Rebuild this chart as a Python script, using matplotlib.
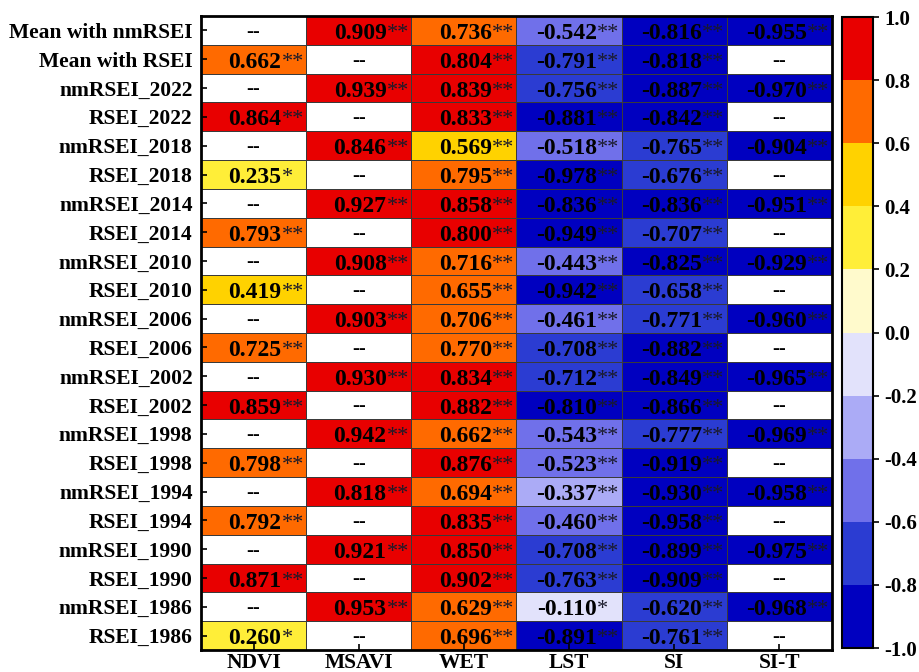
import numpy as np
import matplotlib
matplotlib.use("Agg")
import matplotlib.pyplot as plt
from matplotlib.colors import ListedColormap, BoundaryNorm

plt.rcParams['font.family'] = ['Liberation Serif', 'DejaVu Serif']

rows = ["Mean with nmRSEI", "Mean with RSEI",
        "nmRSEI_2022", "RSEI_2022", "nmRSEI_2018", "RSEI_2018",
        "nmRSEI_2014", "RSEI_2014", "nmRSEI_2010", "RSEI_2010",
        "nmRSEI_2006", "RSEI_2006", "nmRSEI_2002", "RSEI_2002",
        "nmRSEI_1998", "RSEI_1998", "nmRSEI_1994", "RSEI_1994",
        "nmRSEI_1990", "RSEI_1990", "nmRSEI_1986", "RSEI_1986"]
cols = ["NDVI", "MSAVI", "WET", "LST", "SI", "SI-T"]

nan = np.nan
ndvi  = [nan, 0.662, nan, 0.864, nan, 0.235, nan, 0.793, nan, 0.419, nan,
         0.725, nan, 0.859, nan, 0.798, nan, 0.792, nan, 0.871, nan, 0.260]
msavi = [0.909, nan, 0.939, nan, 0.846, nan, 0.927, nan, 0.908, nan, 0.903,
         nan, 0.930, nan, 0.942, nan, 0.818, nan, 0.921, nan, 0.953, nan]
wet   = [0.736, 0.804, 0.839, 0.833, 0.569, 0.795, 0.858, 0.800, 0.716, 0.655,
         0.706, 0.770, 0.834, 0.882, 0.662, 0.876, 0.694, 0.835, 0.850, 0.902,
         0.629, 0.696]
lst   = [-0.542, -0.791, -0.756, -0.881, -0.518, -0.978, -0.836, -0.949,
         -0.443, -0.942, -0.461, -0.708, -0.712, -0.810, -0.543, -0.523,
         -0.337, -0.460, -0.708, -0.763, -0.110, -0.891]
si    = [-0.816, -0.818, -0.887, -0.842, -0.765, -0.676, -0.836, -0.707,
         -0.825, -0.658, -0.771, -0.882, -0.849, -0.866, -0.777, -0.919,
         -0.930, -0.958, -0.899, -0.909, -0.620, -0.761]
sit   = [-0.955, nan, -0.970, nan, -0.904, nan, -0.951, nan, -0.929, nan,
         -0.960, nan, -0.965, nan, -0.969, nan, -0.958, nan, -0.975, nan,
         -0.968, nan]

# significance: 2 -> "**", 1 -> "*"
sig_ndvi  = [0, 2, 0, 2, 0, 1, 0, 2, 0, 2, 0, 2, 0, 2, 0, 2, 0, 2, 0, 2, 0, 1]
sig_msavi = [2, 0, 2, 0, 2, 0, 2, 0, 2, 0, 2, 0, 2, 0, 2, 0, 2, 0, 2, 0, 2, 0]
sig_wet   = [2] * 22
sig_lst   = [2] * 20 + [1, 2]
sig_si    = [2] * 22
sig_sit   = [2, 0] * 11

cbar_ticks = [1.0, 0.8, 0.6, 0.4, 0.2, 0.0, -0.2, -0.4, -0.6, -0.8, -1.0]

data = np.array([ndvi, msavi, wet, lst, si, sit]).T
sig = np.array([sig_ndvi, sig_msavi, sig_wet, sig_lst, sig_si, sig_sit]).T

colors = ["#0000C0", "#2B3CD2", "#7070EA", "#ABABF6", "#E2E2FB",
          "#FFFACC", "#FFEE38", "#FFD200", "#FF6A00", "#E80000"]
cmap = ListedColormap(colors)
cmap.set_bad("white")
bounds = np.linspace(-1, 1, 11)
norm = BoundaryNorm(bounds, cmap.N)

fig = plt.figure(figsize=(9.19, 6.72), dpi=100)
ax = fig.add_axes([0.2187, 0.0327, 0.6866, 0.9435])
nr, nc = data.shape
m = ax.pcolormesh(np.arange(nc + 1), np.arange(nr + 1),
                  np.ma.masked_invalid(data), cmap=cmap, norm=norm,
                  edgecolors="#3a3a3a", linewidth=0.7)
ax.set_xlim(0, nc)
ax.set_ylim(nr, 0)

for i in range(nr):
    for j in range(nc):
        v = data[i, j]
        if np.isnan(v):
            ax.text(j + 0.5, i + 0.55, "--", ha="center", va="center",
                    fontsize=15, fontweight="bold", color="black")
        else:
            ax.text(j + 0.765, i + 0.52, f"{v:.3f}", ha="right",
                    va="center_baseline", fontsize=17, fontweight="bold",
                    color="black")
            ax.text(j + 0.765, i + 0.52, "*" * int(sig[i, j]), ha="left",
                    va="center_baseline", fontsize=16, fontweight="normal",
                    color="#1a1a2a")

ax.set_xticks(np.arange(nc) + 0.5)
ax.set_xticklabels(cols, fontsize=15.5, fontweight="bold")
ax.set_yticks(np.arange(nr) + 0.5)
ax.set_yticklabels(rows, fontsize=15.5, fontweight="bold")
ax.tick_params(axis="y", direction="in", length=4, width=1.2, pad=6)
ax.tick_params(axis="x", direction="in", length=4, width=1.2, pad=2)
for s in ax.spines.values():
    s.set_linewidth(2)

cax = fig.add_axes([0.9162, 0.0357, 0.0337, 0.939])
cb = fig.colorbar(m, cax=cax, ticks=cbar_ticks, boundaries=bounds)
cb.outline.set_linewidth(1.5)
cax.tick_params(direction="out", length=4, width=1.2, labelsize=15, pad=4)
cax.set_yticklabels([f"{t:.1f}" for t in cbar_ticks], fontweight="bold")

fig.savefig("out.png", dpi=100)
